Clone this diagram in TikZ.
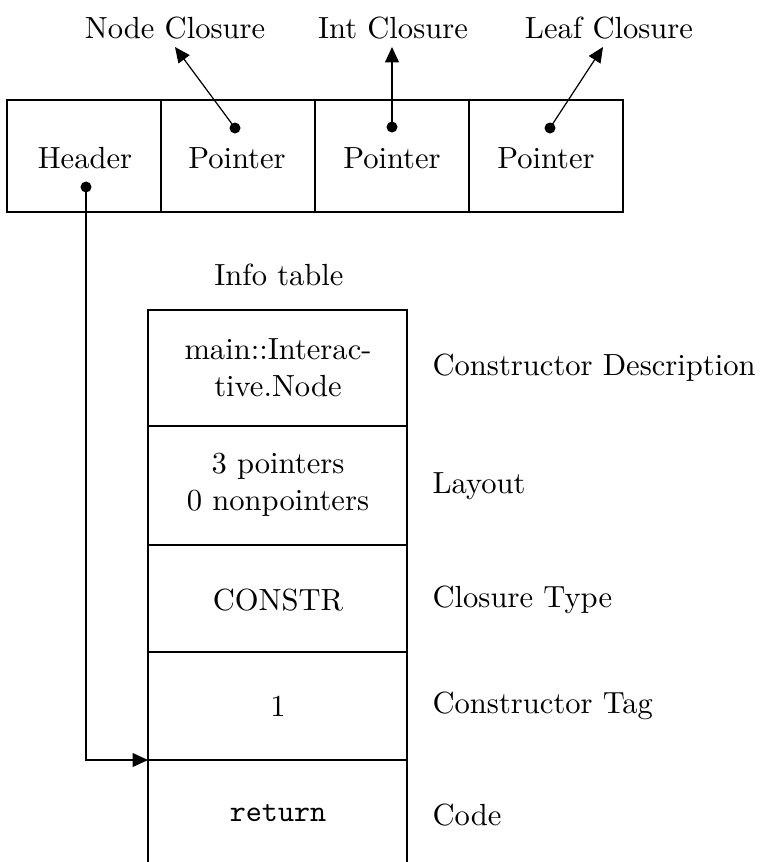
\documentclass[tikz,border=0pt]{standalone}
\usetikzlibrary{arrows.meta}
\begin{document}
\begin{tikzpicture}[x=0.327pt,y=-0.327pt,
  cell/.style={draw,line width=0.4pt,minimum width={154*0.327pt},minimum height={112*0.327pt},inner sep=0pt},
  lbl/.style={inner sep=0pt,anchor=center,font=\normalsize},
  side/.style={inner sep=0pt,anchor=west},
  dot/.style={circle,fill,inner sep=0pt,minimum size=3.6pt},
  arr/.style={-{Triangle[length=5pt,width=4.5pt]},line width=0.4pt}]
\useasboundingbox (0,0) rectangle (763,862);
% top cells
\node[cell] (hdr) at (84,156) {};
\node[cell] (p1) at (238,156) {};
\node[cell] (p2) at (392,156) {};
\node[cell] (p3) at (546,156) {};
\node[lbl] (thdr) at (85,158) {Header};
\node[lbl] (tp1) at (237,158) {Pointer};
\node[lbl] (tp2) at (392,158) {Pointer};
\node[lbl] (tp3) at (546,158) {Pointer};
\node[dot] (d0) at (86,187) {};
\node[dot] (d1) at (235,128) {};
\node[dot] (d2) at (392,127) {};
\node[dot] (d3) at (550,128) {};
\node[lbl] (nc) at (175,28) {Node Closure};
\node[lbl] (ic) at (393,28) {Int Closure};
\node[lbl] (lc) at (609,28) {Leaf Closure};
\coordinate (a1) at (175,47);
\coordinate (a2) at (392,47);
\coordinate (a3) at (603,47);
\draw[arr] (d1.center) -- (a1);
\draw[arr] (d2.center) -- (a2);
\draw[arr] (d3.center) -- (a3);
% info table
\node[lbl] (it) at (279,275) {Info table};
\draw (148,862) -- (148,310) -- (407,310) -- (407,862);
\draw (148,426) -- (407,426);
\draw (148,545) -- (407,545);
\draw (148,652) -- (407,652);
\draw (148,760) -- (407,760);
\coordinate (r5) at (148,760);
\node[lbl,align=center] (c1) at (278,368) {main::Interac-\\tive.Node};
\node[lbl,align=center] (c2) at (278,485) {3 pointers\\0 nonpointers};
\node[lbl] (c3) at (278,600) {CONSTR};
\node[lbl] (c4) at (278,706) {1};
\node[lbl] (c5) at (278,813) {\texttt{return}};
\node[side] (s1) at (432,368) {Constructor Description};
\node[side] (s2) at (432,486) {Layout};
\node[side] (s3) at (432,600) {Closure Type};
\node[side] (s4) at (432,706) {Constructor Tag};
\node[side] (s5) at (432,815) {Code};
\draw[arr] (d0.center) |- (r5);
\end{tikzpicture}
\end{document}
